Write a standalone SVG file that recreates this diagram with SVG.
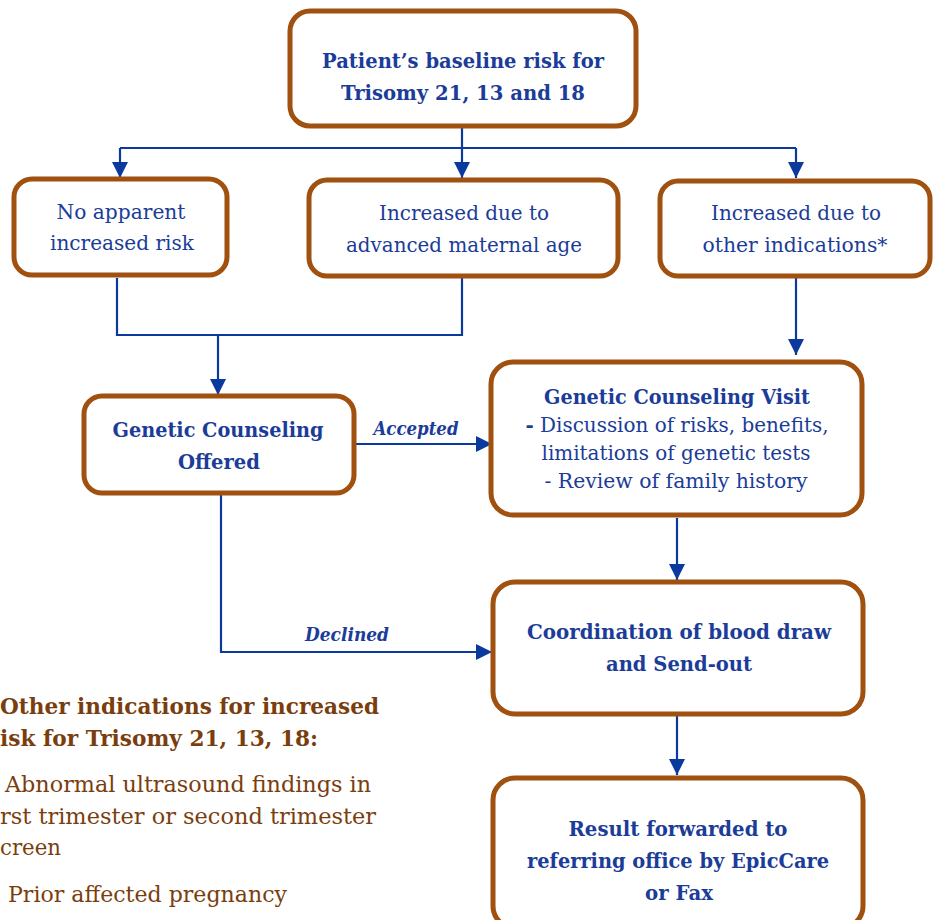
<svg xmlns="http://www.w3.org/2000/svg" width="933" height="920" viewBox="0 0 933 920">
<defs>
<style>
.box{fill:#fff;stroke:#A0500F;stroke-width:5}
.t{font-family:"DejaVu Serif","Liberation Serif",serif;fill:#1B3C98;text-anchor:middle;font-size:21px}
.b{font-weight:bold}
.c{fill:none;stroke:#0A3A9E;stroke-width:2.2}
.lbl{font-family:"DejaVu Serif","Liberation Serif",serif;fill:#1B3C98;font-size:19px;font-weight:bold;font-style:italic;text-anchor:middle}
.leg{font-family:"DejaVu Serif","Liberation Serif",serif;fill:#7A3E0E;font-size:23px}
</style>
<marker id="ah" viewBox="0 0 10 10" refX="10" refY="5" markerWidth="16" markerHeight="16" markerUnits="userSpaceOnUse" orient="auto">
<path d="M0,0 L10,5 L0,10 Z" fill="#0A3A9E"/>
</marker>
</defs>
<rect width="933" height="920" fill="#fff"/>
<g id="connectors">
<path class="c" d="M462,127 V148"/>
<path class="c" d="M120,148 H796"/>
<path class="c" d="M120,148 V178" marker-end="url(#ah)"/>
<path class="c" d="M462,148 V178" marker-end="url(#ah)"/>
<path class="c" d="M796,148 V178" marker-end="url(#ah)"/>
<path class="c" d="M117,278 V335 H462 V278"/>
<path class="c" d="M218,335 V395" marker-end="url(#ah)"/>
<path class="c" d="M796,278 V355" marker-end="url(#ah)"/>
<path class="c" d="M354,444 H492" marker-end="url(#ah)"/>
<path class="c" d="M221,493 V652 H492" marker-end="url(#ah)"/>
<path class="c" d="M677,518 V580" marker-end="url(#ah)"/>
<path class="c" d="M677,714 V775" marker-end="url(#ah)"/>
<text class="lbl" x="416" y="435" textLength="85" lengthAdjust="spacingAndGlyphs">Accepted</text>
<text class="lbl" x="347" y="641" textLength="84" lengthAdjust="spacingAndGlyphs">Declined</text>
</g>
<g id="n1">
<rect class="box" x="290" y="11" width="346" height="115" rx="20"/>
<text class="t b" x="463" y="68" textLength="282" lengthAdjust="spacingAndGlyphs">Patient’s baseline risk for</text>
<text class="t b" x="463" y="100" textLength="244" lengthAdjust="spacingAndGlyphs">Trisomy 21, 13 and 18</text>
</g>
<g id="n2">
<rect class="box" x="14" y="179" width="213" height="96" rx="18"/>
<text class="t" x="121" y="219" textLength="129" lengthAdjust="spacingAndGlyphs">No apparent</text>
<text class="t" x="122" y="250" textLength="144" lengthAdjust="spacingAndGlyphs">increased risk</text>
</g>
<g id="n3">
<rect class="box" x="309" y="180" width="309" height="96" rx="18"/>
<text class="t" x="464" y="220" textLength="170" lengthAdjust="spacingAndGlyphs">Increased due to</text>
<text class="t" x="464" y="252" textLength="236" lengthAdjust="spacingAndGlyphs">advanced maternal age</text>
</g>
<g id="n4">
<rect class="box" x="660" y="181" width="270" height="95" rx="18"/>
<text class="t" x="796" y="220" textLength="170" lengthAdjust="spacingAndGlyphs">Increased due to</text>
<text class="t" x="795" y="252" textLength="185" lengthAdjust="spacingAndGlyphs">other indications*</text>
</g>
<g id="n5">
<rect class="box" x="84" y="396" width="270" height="97" rx="18"/>
<text class="t b" x="218" y="437" textLength="211" lengthAdjust="spacingAndGlyphs">Genetic Counseling</text>
<text class="t b" x="219" y="469" textLength="82" lengthAdjust="spacingAndGlyphs">Offered</text>
</g>
<g id="n6">
<rect class="box" x="491" y="362" width="371" height="153" rx="22"/>
<text class="t b" x="677" y="404" textLength="266" lengthAdjust="spacingAndGlyphs">Genetic Counseling Visit</text>
<text class="t" x="677" y="432" textLength="303" lengthAdjust="spacingAndGlyphs"><tspan class="b">-</tspan> Discussion of risks, benefits,</text>
<text class="t" x="676" y="460" textLength="269" lengthAdjust="spacingAndGlyphs">limitations of genetic tests</text>
<text class="t" x="676" y="488" textLength="263" lengthAdjust="spacingAndGlyphs">- Review of family history</text>
</g>
<g id="n7">
<rect class="box" x="493" y="582" width="370" height="132" rx="22"/>
<text class="t b" x="679" y="639" textLength="304" lengthAdjust="spacingAndGlyphs">Coordination of blood draw</text>
<text class="t b" x="679" y="671" textLength="146" lengthAdjust="spacingAndGlyphs">and Send-out</text>
</g>
<g id="n8">
<rect class="box" x="493" y="778" width="370" height="150" rx="22"/>
<text class="t b" x="678" y="836" textLength="219" lengthAdjust="spacingAndGlyphs">Result forwarded to</text>
<text class="t b" x="678" y="868" textLength="302" lengthAdjust="spacingAndGlyphs">referring office by EpicCare</text>
<text class="t b" x="679" y="900" textLength="68" lengthAdjust="spacingAndGlyphs">or Fax</text>
</g>
<g id="legend">
<text class="leg b" x="0" y="714" textLength="379" lengthAdjust="spacingAndGlyphs">Other indications for increased</text>
<text class="leg b" x="0" y="746" textLength="318" lengthAdjust="spacingAndGlyphs">isk for Trisomy 21, 13, 18:</text>
<text class="leg" x="5" y="792" textLength="366" lengthAdjust="spacingAndGlyphs">Abnormal ultrasound findings in</text>
<text class="leg" x="0" y="824" textLength="376" lengthAdjust="spacingAndGlyphs">rst trimester or second trimester</text>
<text class="leg" x="0" y="855" textLength="61" lengthAdjust="spacingAndGlyphs">creen</text>
<text class="leg" x="8" y="902" textLength="279" lengthAdjust="spacingAndGlyphs">Prior affected pregnancy</text>
</g>
</svg>
